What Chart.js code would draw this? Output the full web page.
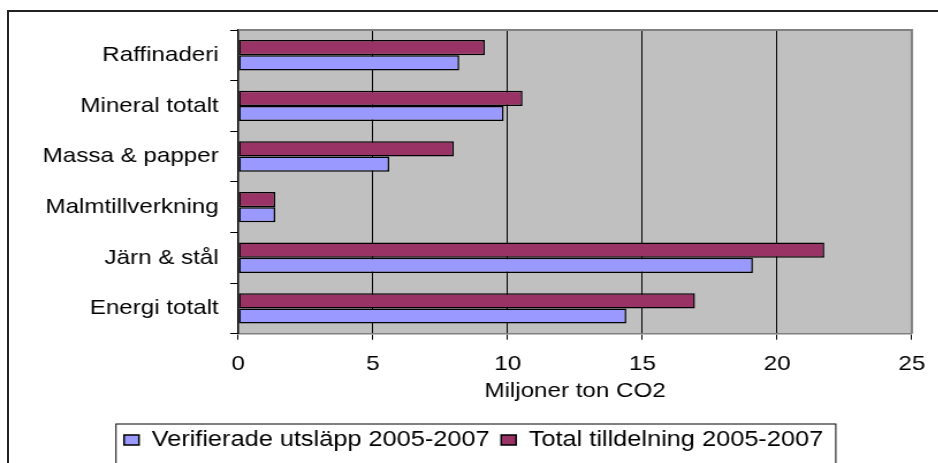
<!DOCTYPE html>
<html>
<head>
<meta charset="utf-8">
<script src="https://cdn.jsdelivr.net/npm/chart.js@4/dist/chart.umd.min.js"></script>
<style>
  html, body { margin: 0; padding: 0; background: #fff; }
  body { width: 938px; height: 463px; overflow: hidden; position: relative; }
  #frame {
    position: absolute; left: 7px; top: 10px; width: 1000px; height: 600px;
    border-top: 2px solid #222; border-left: 2px solid #222;
  }
  #wrap {
    position: absolute; left: 0; top: 0; height: 463px;
    transform-origin: 0 0;
  }
</style>
</head>
<body>
<div id="frame"></div>
<div id="wrap"><canvas id="myChart"></canvas></div>
<script>
// Kategorier (nerifrån och upp, som i Excel)
const categories = [
  "Energi totalt",
  "Järn & stål",
  "Malmtillverkning",
  "Massa & papper",
  "Mineral totalt",
  "Raffinaderi",
];
const verifierade = [14.4, 19.1, 1.37, 5.6, 9.85, 8.2];
const tilldelning = [16.95, 21.75, 1.37, 8.0, 10.55, 9.15];
const xMin = 0;
const xMax = 25;
const xStep = 5;

// originalbilden är utdragen på bredden, så diagrammet dras ut likadant
const SX = 1.15;
const wrap = document.getElementById("wrap");
wrap.style.width = 938 / SX + "px";
wrap.style.transform = `scaleX(${SX})`;

const padLeft = 27;
const font = { family: "'Liberation Sans', Arial, sans-serif", size: 21 };
const legendFont = { family: "'Liberation Sans', Arial, sans-serif", size: 22 };

// grå plotyta + ram
const plotArea = {
  id: "plotArea",
  beforeDraw(chart) {
    const { ctx, chartArea: a } = chart;
    ctx.save();
    ctx.fillStyle = "#C0C0C0";
    ctx.fillRect(a.left, a.top, a.right - a.left, a.bottom - a.top);
    ctx.restore();
  },
  afterDraw(chart) {
    const { ctx, chartArea: a } = chart;
    ctx.save();
    ctx.strokeStyle = "#808080";
    ctx.lineWidth = 2;
    ctx.beginPath();
    ctx.moveTo(a.left, a.top);
    ctx.lineTo(a.right, a.top);
    ctx.lineTo(a.right, a.bottom);
    ctx.stroke();

    // ram runt förklaringen
    const boxes = chart.legend.legendHitBoxes;
    if (boxes && boxes.length) {
      const first = boxes[0];
      const last = boxes[boxes.length - 1];
      const left = Math.min(first.left, last.left) - 7;
      const right = Math.max(first.left + first.width, last.left + last.width) + 11;
      const mid = first.top + first.height / 2;
      ctx.strokeStyle = "#000";
      ctx.lineWidth = 1;
      ctx.strokeRect(left, mid - 16, right - left, 60);
    }
    ctx.restore();
  },
};

const ctx = document.getElementById("myChart").getContext("2d");
new Chart(ctx, {
  type: "bar",
  data: {
    labels: categories,
    // Total först så att den hamnar överst i varje par
    datasets: [
      {
        label: "Total tilldelning 2005-2007",
        data: tilldelning,
        backgroundColor: "#993366",
        borderColor: "#000",
        borderWidth: 1.5,
        borderSkipped: false,
      },
      {
        label: "Verifierade utsläpp 2005-2007",
        data: verifierade,
        backgroundColor: "#9999FF",
        borderColor: "#000",
        borderWidth: 1.5,
        borderSkipped: false,
      },
    ],
  },
  options: {
    indexAxis: "y",
    responsive: true,
    maintainAspectRatio: false,
    animation: false,
    categoryPercentage: 0.6,
    barPercentage: 1.0,
    layout: { padding: { top: 30, right: 23 / SX, left: padLeft, bottom: 2 } },
    scales: {
      x: {
        min: xMin,
        max: xMax,
        ticks: { stepSize: xStep, color: "#000", font, padding: 12 },
        grid: { color: "#000", lineWidth: 1, tickLength: 6 },
        border: { color: "#808080", width: 1.5 },
        title: {
          display: true,
          text: "Miljoner ton CO2",
          color: "#000",
          font,
          padding: { top: 0, bottom: 15 },
        },
        afterFit(scale) {
          scale.height = 85.3;
        },
      },
      y: {
        reverse: true,
        ticks: { color: "#000", font, padding: 10 },
        grid: { drawOnChartArea: false, color: "#000", tickLength: 7 },
        border: { color: "#000", width: 1.5 },
        afterFit(scale) {
          scale.width = 238 / SX - padLeft;
        },
      },
    },
    plugins: {
      legend: {
        position: "bottom",
        reverse: true,
        labels: {
          color: "#000",
          font: legendFont,
          boxWidth: 13,
          boxHeight: 10,
          padding: 10,
        },
      },
      tooltip: { enabled: false },
    },
  },
  plugins: [plotArea],
});
</script>
</body>
</html>
